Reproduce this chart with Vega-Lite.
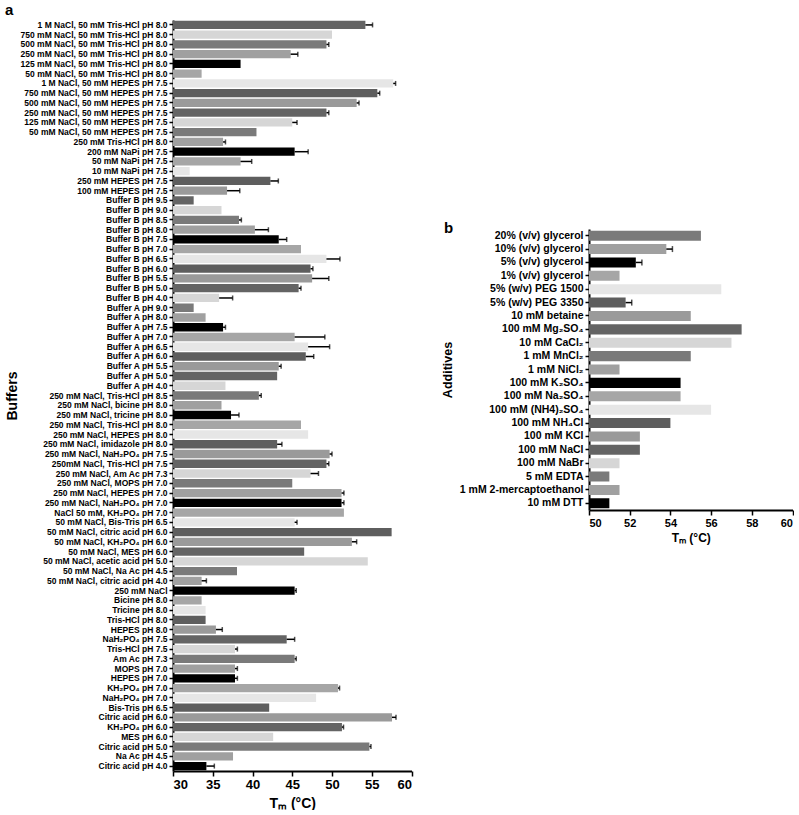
{
  "$schema": "https://vega.github.io/schema/vega-lite/v6.json",
  "padding": {"left": 5, "top": 3, "right": 0, "bottom": 0},
  "config": {
    "view": {"stroke": null},
    "font": "Liberation Sans",
    "axis": {"domainColor": "#000", "domainWidth": 2, "tickColor": "#000", "tickWidth": 1.5, "labelColor": "#000", "labelFontWeight": "bold", "titleColor": "#000", "titleFontWeight": "bold", "grid": false, "labelFont": "Liberation Sans", "titleFont": "Liberation Sans", "labelOverlap": false},
    "title": {"font": "Liberation Sans", "fontWeight": "bold", "color": "#000"}
  },
  "datasets": {
    "buffers": [
      {"buffer": "1 M NaCl, 50 mM Tris-HCl pH 8.0", "tm": 54.2, "err": 0.9},
      {"buffer": "750 mM NaCl, 50 mM Tris-HCl pH 8.0", "tm": 50.0},
      {"buffer": "500 mM NaCl, 50 mM Tris-HCl pH 8.0", "tm": 49.3, "err": 0.3},
      {"buffer": "250 mM NaCl, 50 mM Tris-HCl pH 8.0", "tm": 44.8, "err": 0.9},
      {"buffer": "125 mM NaCl, 50 mM Tris-HCl pH 8.0", "tm": 38.5},
      {"buffer": "50 mM NaCl, 50 mM Tris-HCl pH 8.0", "tm": 33.6},
      {"buffer": "1 M NaCl, 50 mM HEPES pH 7.5", "tm": 57.7, "err": 0.3},
      {"buffer": "750 mM NaCl, 50 mM HEPES pH 7.5", "tm": 55.7, "err": 0.3},
      {"buffer": "500 mM NaCl, 50 mM HEPES pH 7.5", "tm": 53.1, "err": 0.3},
      {"buffer": "250 mM NaCl, 50 mM HEPES pH 7.5", "tm": 49.3, "err": 0.3},
      {"buffer": "125 mM NaCl, 50 mM HEPES pH 7.5", "tm": 45.0, "err": 0.6},
      {"buffer": "50 mM NaCl, 50 mM HEPES pH 7.5", "tm": 40.5},
      {"buffer": "250 mM Tris-HCl pH 8.0", "tm": 36.3, "err": 0.3},
      {"buffer": "200 mM NaPi pH 7.5", "tm": 45.3, "err": 1.7},
      {"buffer": "50 mM NaPi pH 7.5", "tm": 38.5, "err": 1.4},
      {"buffer": "10 mM NaPi pH 7.5", "tm": 32.1},
      {"buffer": "250 mM HEPES pH 7.5", "tm": 42.25, "err": 1.0},
      {"buffer": "100 mM HEPES pH 7.5", "tm": 36.8, "err": 1.6},
      {"buffer": "Buffer B pH 9.5", "tm": 32.6},
      {"buffer": "Buffer B pH 9.0", "tm": 36.1},
      {"buffer": "Buffer B pH 8.5", "tm": 38.3, "err": 0.3},
      {"buffer": "Buffer B pH 8.0", "tm": 40.3, "err": 1.7},
      {"buffer": "Buffer B pH 7.5", "tm": 43.3, "err": 1.0},
      {"buffer": "Buffer B pH 7.0", "tm": 46.1},
      {"buffer": "Buffer B pH 6.5", "tm": 49.3, "err": 1.7},
      {"buffer": "Buffer B pH 6.0", "tm": 47.3, "err": 0.3},
      {"buffer": "Buffer B pH 5.5", "tm": 47.5, "err": 2.1},
      {"buffer": "Buffer B pH 5.0", "tm": 45.8, "err": 0.3},
      {"buffer": "Buffer B pH 4.0", "tm": 35.8, "err": 1.7},
      {"buffer": "Buffer A pH 9.0", "tm": 32.6},
      {"buffer": "Buffer A pH 8.0", "tm": 34.1},
      {"buffer": "Buffer A pH 7.5", "tm": 36.3, "err": 0.3},
      {"buffer": "Buffer A pH 7.0", "tm": 45.3, "err": 3.8},
      {"buffer": "Buffer A pH 6.5", "tm": 47.0, "err": 2.7},
      {"buffer": "Buffer A pH 6.0", "tm": 46.7, "err": 1.0},
      {"buffer": "Buffer A pH 5.5", "tm": 43.3, "err": 0.3},
      {"buffer": "Buffer A pH 5.0", "tm": 43.1},
      {"buffer": "Buffer A pH 4.0", "tm": 36.6},
      {"buffer": "250 mM NaCl, Tris-HCl pH 8.5", "tm": 40.8, "err": 0.3},
      {"buffer": "250 mM NaCl, bicine pH 8.0", "tm": 36.1},
      {"buffer": "250 mM NaCl, tricine pH 8.0", "tm": 37.3, "err": 1.0},
      {"buffer": "250 mM NaCl, Tris-HCl pH 8.0", "tm": 46.1},
      {"buffer": "250 mM NaCl, HEPES pH 8.0", "tm": 47.0},
      {"buffer": "250 mM NaCl, imidazole pH 8.0", "tm": 43.1, "err": 0.6},
      {"buffer": "250 mM NaCl, NaH₂PO₄ pH 7.5", "tm": 49.7, "err": 0.3},
      {"buffer": "250mM NaCl, Tris-HCl pH 7.5", "tm": 49.3, "err": 0.3},
      {"buffer": "250 mM NaCl, Am Ac pH 7.3", "tm": 47.3, "err": 1.0},
      {"buffer": "250 mM NaCl, MOPS pH 7.0", "tm": 45.0},
      {"buffer": "250 mM NaCl, HEPES pH 7.0", "tm": 51.2, "err": 0.3},
      {"buffer": "250 mM NaCl, NaH₂PO₄ pH 7.0", "tm": 51.2, "err": 0.3},
      {"buffer": "NaCl 50 mM, KH₂PO₄ pH 7.0", "tm": 51.5},
      {"buffer": "50 mM NaCl, Bis-Tris pH 6.5", "tm": 45.3, "err": 0.3},
      {"buffer": "50 mM NaCl, citric acid pH 6.0", "tm": 57.5},
      {"buffer": "50 mM NaCl, KH₂PO₄ pH 6.0", "tm": 52.5, "err": 0.6},
      {"buffer": "50 mM NaCl, MES pH 6.0", "tm": 46.5},
      {"buffer": "50 mM NaCl, acetic acid pH 5.0", "tm": 54.5},
      {"buffer": "50 mM NaCl, Na Ac pH 4.5", "tm": 38.05},
      {"buffer": "50 mM NaCl, citric acid pH 4.0", "tm": 33.6, "err": 0.6},
      {"buffer": "250 mM NaCl", "tm": 45.3, "err": 0.2},
      {"buffer": "Bicine pH 8.0", "tm": 33.6},
      {"buffer": "Tricine pH 8.0", "tm": 34.1},
      {"buffer": "Tris-HCl pH 8.0", "tm": 34.1},
      {"buffer": "HEPES pH 8.0", "tm": 35.4, "err": 0.8},
      {"buffer": "NaH₂PO₄ pH 7.5", "tm": 44.3, "err": 1.0},
      {"buffer": "Tris-HCl pH 7.5", "tm": 37.8, "err": 0.3},
      {"buffer": "Am Ac pH 7.3", "tm": 45.3, "err": 0.2},
      {"buffer": "MOPS pH 7.0", "tm": 37.8, "err": 0.3},
      {"buffer": "HEPES pH 7.0", "tm": 37.8, "err": 0.3},
      {"buffer": "KH₂PO₄ pH 7.0", "tm": 50.75, "err": 0.2},
      {"buffer": "NaH₂PO₄ pH 7.0", "tm": 48.0},
      {"buffer": "Bis-Tris pH 6.5", "tm": 42.1},
      {"buffer": "Citric acid pH 6.0", "tm": 57.55, "err": 0.5},
      {"buffer": "KH₂PO₄ pH 6.0", "tm": 51.25, "err": 0.2},
      {"buffer": "MES pH 6.0", "tm": 42.6},
      {"buffer": "Citric acid pH 5.0", "tm": 54.7, "err": 0.2},
      {"buffer": "Na Ac pH 4.5", "tm": 37.55},
      {"buffer": "Citric acid pH 4.0", "tm": 34.2, "err": 1.0}
    ],
    "additives": [
      {"additive": "20% (v/v) glycerol", "tm": 55.5},
      {"additive": "10% (v/v) glycerol", "tm": 53.8, "err": 0.3},
      {"additive": "5% (v/v) glycerol", "tm": 52.3, "err": 0.3},
      {"additive": "1% (v/v) glycerol", "tm": 51.5},
      {"additive": "5% (w/v) PEG 1500", "tm": 56.5},
      {"additive": "5% (w/v) PEG 3350", "tm": 51.8, "err": 0.3},
      {"additive": "10 mM betaine", "tm": 55.0},
      {"additive": "100 mM Mg₂SO₄", "tm": 57.5},
      {"additive": "10 mM CaCl₂", "tm": 57.0},
      {"additive": "1 mM MnCl₂", "tm": 55.0},
      {"additive": "1 mM NiCl₂", "tm": 51.5},
      {"additive": "100 mM K₂SO₄", "tm": 54.5},
      {"additive": "100 mM Na₂SO₄", "tm": 54.5},
      {"additive": "100 mM (NH4)₂SO₄", "tm": 56.0},
      {"additive": "100 mM NH₄Cl", "tm": 54.0},
      {"additive": "100 mM KCl", "tm": 52.5},
      {"additive": "100 mM NaCl", "tm": 52.5},
      {"additive": "100 mM NaBr", "tm": 51.5},
      {"additive": "5 mM EDTA", "tm": 51.0},
      {"additive": "1 mM 2-mercaptoethanol", "tm": 51.5},
      {"additive": "10 mM DTT", "tm": 51.0}
    ]
  },
  "hconcat": [
    {
      "data": {"name": "buffers"},
      "transform": [
        {"window": [{"op": "row_number", "as": "rn"}]},
        {"calculate": "(77 - datum.rn) % 9", "as": "shade"}
      ],
      "width": 238.5,
      "height": 751,
      "title": {"text": "a", "anchor": "start", "frame": "group", "dx": -168, "fontSize": 15, "offset": 2},
      "encoding": {
        "y": {"field": "buffer", "type": "nominal", "sort": null, "scale": {"paddingInner": 0.15, "paddingOuter": 0.08},
          "axis": {"title": "Buffers", "titleFontSize": 14, "labelFontSize": 8.5, "tickSize": 4, "labelPadding": 2, "minExtent": 148, "maxExtent": 148, "titlePadding": 6}}
      },
      "layer": [
        {
          "mark": {"type": "bar", "clip": true},
          "encoding": {
            "x": {"field": "tm", "type": "quantitative", "scale": {"domain": [30, 60], "nice": false},
              "title": "Tₘ (°C)",
              "axis": {"values": [30, 35, 40, 45, 50, 55, 60], "labelFontSize": 13, "titleFontSize": 14, "tickSize": 5, "labelPadding": 2, "titlePadding": 5, "labelOverlap": false}},
            "color": {"field": "shade", "type": "ordinal", "legend": null,
              "scale": {"domain": [0, 1, 2, 3, 4, 5, 6, 7, 8], "range": ["#000000", "#a0a0a0", "#7a7a7a", "#d6d6d6", "#646464", "#9a9a9a", "#5e5e5e", "#e6e6e6", "#a6a6a6"]}}
          }
        },
        {
          "transform": [{"filter": "datum.err > 0"}, {"calculate": "datum.tm + datum.err", "as": "hi"}],
          "mark": {"type": "rule", "color": "#000", "strokeWidth": 1.5},
          "encoding": {
            "x": {"field": "tm", "type": "quantitative", "scale": {"domain": [30, 60], "nice": false}, "title": "Tₘ (°C)",
              "axis": {"values": [30, 35, 40, 45, 50, 55, 60], "labelFontSize": 13, "titleFontSize": 14, "tickSize": 5, "labelPadding": 2, "titlePadding": 5, "labelOverlap": false}},
            "x2": {"field": "hi"}
          }
        },
        {
          "transform": [{"filter": "datum.err > 0"}, {"calculate": "datum.tm + datum.err", "as": "hi"}],
          "mark": {"type": "tick", "orient": "vertical", "color": "#000", "thickness": 1.5, "size": 5},
          "encoding": {
            "x": {"field": "hi", "type": "quantitative", "scale": {"domain": [30, 60], "nice": false}, "title": "Tₘ (°C)",
              "axis": {"values": [30, 35, 40, 45, 50, 55, 60], "labelFontSize": 13, "titleFontSize": 14, "tickSize": 5, "labelPadding": 2, "titlePadding": 5, "labelOverlap": false}}
          }
        }
      ]
    },
    {
      "data": {"name": "additives"},
      "transform": [
        {"window": [{"op": "row_number", "as": "rn"}]},
        {"calculate": "(21 - datum.rn) % 9", "as": "shade"}
      ],
      "width": 203.5,
      "height": 490,
      "title": {"text": "b", "anchor": "start", "frame": "group", "dx": -145, "dy": 218, "fontSize": 15, "offset": 2},
      "encoding": {
        "y": {"field": "additive", "type": "nominal", "sort": null, "scale": {"paddingInner": 0.25, "paddingOuter": 0.125, "range": [209, 490]},
          "axis": {"title": "Additives", "titleFontSize": 12.5, "labelFontSize": 10.5, "tickSize": 4, "labelPadding": 2, "minExtent": 130, "maxExtent": 130, "titlePadding": 5}}
      },
      "layer": [
        {
          "mark": {"type": "bar", "clip": true},
          "encoding": {
            "x": {"field": "tm", "type": "quantitative", "scale": {"domain": [50, 60], "nice": false},
              "title": "Tₘ (°C)",
              "axis": {"values": [50, 52, 54, 56, 58, 60], "labelFontSize": 11, "titleFontSize": 12, "tickSize": 5, "labelPadding": 2, "titlePadding": 4}},
            "color": {"field": "shade", "type": "ordinal", "legend": null,
              "scale": {"domain": [0, 1, 2, 3, 4, 5, 6, 7, 8], "range": ["#000000", "#a0a0a0", "#7a7a7a", "#d6d6d6", "#646464", "#9a9a9a", "#5e5e5e", "#e6e6e6", "#a6a6a6"]}}
          }
        },
        {
          "transform": [{"filter": "datum.err > 0"}, {"calculate": "datum.tm + datum.err", "as": "hi"}],
          "mark": {"type": "rule", "color": "#000", "strokeWidth": 1.5},
          "encoding": {
            "x": {"field": "tm", "type": "quantitative", "scale": {"domain": [50, 60], "nice": false}, "title": "Tₘ (°C)",
              "axis": {"values": [50, 52, 54, 56, 58, 60], "labelFontSize": 11, "titleFontSize": 12, "tickSize": 5, "labelPadding": 2, "titlePadding": 4}},
            "x2": {"field": "hi"}
          }
        },
        {
          "transform": [{"filter": "datum.err > 0"}, {"calculate": "datum.tm + datum.err", "as": "hi"}],
          "mark": {"type": "tick", "orient": "vertical", "color": "#000", "thickness": 1.5, "size": 6},
          "encoding": {
            "x": {"field": "hi", "type": "quantitative", "scale": {"domain": [50, 60], "nice": false}, "title": "Tₘ (°C)",
              "axis": {"values": [50, 52, 54, 56, 58, 60], "labelFontSize": 11, "titleFontSize": 12, "tickSize": 5, "labelPadding": 2, "titlePadding": 4}}
          }
        }
      ]
    }
  ],
  "spacing": 28
}
